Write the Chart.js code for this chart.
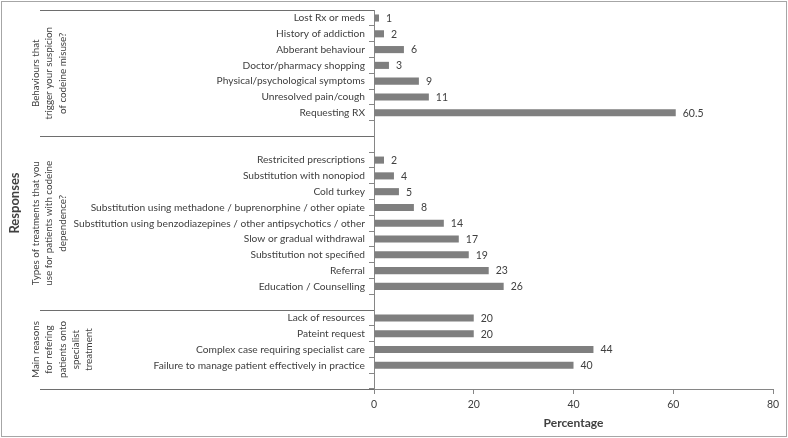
<!DOCTYPE html>
<html><head><meta charset="utf-8">
<script src="https://cdn.jsdelivr.net/npm/chart.js@4.4.1/dist/chart.umd.min.js"></script>
<style>html,body{margin:0;padding:0;background:#fff;}canvas{display:block;}</style>
</head><body>
<canvas id="c" width="788" height="438"></canvas>
<script>
// ---- data ----
const behaviourLabels = ['Lost Rx or meds','History of addiction','Abberant behaviour','Doctor/pharmacy shopping','Physical/psychological symptoms','Unresolved pain/cough','Requesting RX'];
const behaviourValues = [1,2,6,3,9,11,60.5];
const treatmentLabels = ['Restricited prescriptions','Substitution with nonopiod','Cold turkey','Substitution using methadone / buprenorphine / other opiate','Substitution using benzodiazepines / other antipsychotics / other','Slow or gradual withdrawal','Substitution not specified','Referral','Education / Counselling'];
const treatmentValues = [2,4,5,8,14,17,19,23,26];
const referralLabels = ['Lack of resources','Pateint request','Complex case requiring specialist care','Failure to manage patient effectively in practice'];
const referralValues = [20,20,44,40];
const groupTitles = [
  ['Behaviours that','trigger your suspicion','of codeine misuse?'],
  ['Types of treatments that you','use for patients with codeine','dependence?'],
  ['Main reasons','for refering','patients onto','specialist','treatment']
];
const xTickValues = [0,20,40,60,80];
const xTitle = 'Percentage';
const yTitle = 'Responses';

// ---- build category table (blank slots separate the groups, as in the original) ----
const labels = [...behaviourLabels,'','',...treatmentLabels,'',...referralLabels,''];
const values = [...behaviourValues,null,null,...treatmentValues,null,...referralValues,null];
const groupRanges = [
  [0, behaviourLabels.length],
  [behaviourLabels.length+1, behaviourLabels.length+2+treatmentLabels.length],
  [behaviourLabels.length+3+treatmentLabels.length, labels.length-1]
];

const FONT = 'Lato';
const TXT = '#404040';
const AX = '#868686';

const extras = {
  id:'extras',
  beforeDraw(chart){
    const c = chart.ctx;
    c.save(); c.fillStyle='#fff'; c.fillRect(0,0,chart.width,chart.height); c.restore();
  },
  afterDatasetsDraw(chart){
    const c = chart.ctx;
    const meta = chart.getDatasetMeta(0);
    c.save();
    c.fillStyle = TXT; c.font = '10.5px '+FONT; c.textAlign='left'; c.textBaseline='middle';
    meta.data.forEach((bar,i)=>{
      const v = values[i];
      if (v===null) return;
      c.fillText(String(v), bar.x+7, bar.y+0.5);
    });
    c.restore();
  },
  afterDraw(chart){
    const c = chart.ctx;
    const y = chart.scales.y;
    const half = (y.getPixelForValue(1)-y.getPixelForValue(0))/2;
    const left = chart.chartArea.left;
    c.save();
    // group separators
    c.strokeStyle = '#6e6e6e'; c.lineWidth = 1;
    const bounds = [y.getPixelForValue(0)-half];
    groupRanges.forEach(r=>bounds.push(y.getPixelForValue(r[1])+half));
    bounds.forEach(b=>{
      const yy = Math.round(b)+0.5;
      c.beginPath(); c.moveTo(40,yy); c.lineTo(left,yy); c.stroke();
    });
    // group titles
    c.fillStyle = TXT; c.font = '9.8px '+FONT; c.textAlign='center'; c.textBaseline='middle';
    groupRanges.forEach((r,gi)=>{
      const top = y.getPixelForValue(r[0])-half;
      const bot = y.getPixelForValue(r[1])+half;
      const cy = (top+bot)/2;
      c.save(); c.translate(36, cy); c.rotate(-Math.PI/2);
      groupTitles[gi].forEach((line,li)=>c.fillText(line,0,li*13.3));
      c.restore();
    });
    // y axis title
    c.save(); c.font = 'bold 13px '+FONT; c.translate(15, 203); c.rotate(-Math.PI/2);
    c.fillText(yTitle,0,0); c.restore();
    // frame
    c.strokeStyle = '#a6a6a6'; c.lineWidth = 1;
    c.strokeRect(1.5,1.5,chart.width-3,chart.height-3);
    c.restore();
  }
};

new Chart(document.getElementById('c'), {
  type:'bar',
  data:{ labels, datasets:[{ data: values, backgroundColor:'#7f7f7f', borderWidth:0, categoryPercentage:1, barPercentage:0.45 }] },
  options:{
    indexAxis:'y', responsive:false, animation:false,
    layout:{padding:{top:8,right:15,bottom:6,left:0}},
    plugins:{legend:{display:false}, tooltip:{enabled:false}},
    scales:{
      x:{
        min:0, max:80,
        afterBuildTicks: s=>{ s.ticks = xTickValues.map(v=>({value:v})); },
        ticks:{color:TXT, font:{family:FONT,size:10.5}, padding:4, maxRotation:0},
        grid:{drawOnChartArea:false, tickLength:5, color:AX},
        border:{color:AX},
        title:{display:true, text:xTitle, color:TXT, font:{family:FONT,size:12,weight:'bold'}, padding:{top:0,bottom:2}},
        afterFit: s=>{ s.height = 43; }
      },
      y:{
        ticks:{color:TXT, font:{family:FONT,size:10.2}, padding:4, autoSkip:false},
        grid:{drawOnChartArea:false, tickLength:5, offset:true, color:AX},
        border:{color:AX},
        afterFit: s=>{ s.width = 374; }
      }
    }
  },
  plugins:[extras]
});
</script>
</body></html>
